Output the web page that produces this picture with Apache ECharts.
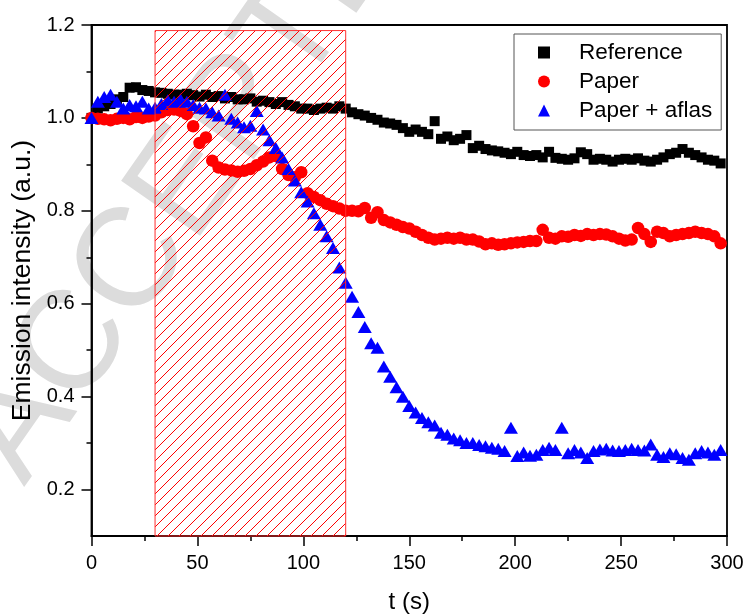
<!DOCTYPE html>
<html>
<head>
<meta charset="utf-8">
<script src="https://cdn.jsdelivr.net/npm/echarts@6/dist/echarts.min.js"></script>
<style>
html, body { margin: 0; padding: 0; background: #fff; }
#chart { width: 747px; height: 616px; }
</style>
</head>
<body>
<div id="chart"></div>
<script>
// sampling times (s)
var times = [
  0, 3, 6, 9, 12, 15, 18, 21, 24, 27,
  30, 33, 36, 39, 42, 45, 48, 51, 54, 57,
  60, 63, 66, 69, 72, 75, 78, 81, 84, 87,
  90, 93, 96, 99, 102, 105, 108, 111, 114, 117,
  120, 123, 126, 129, 132, 135, 138, 141, 144, 147,
  150, 153, 156, 159, 162, 165, 168, 171, 174, 177,
  180, 183, 186, 189, 192, 195, 198, 201, 204, 207,
  210, 213, 216, 219, 222, 225, 228, 231, 234, 237,
  240, 243, 246, 249, 252, 255, 258, 261, 264, 267,
  270, 273, 276, 279, 282, 285, 288, 291, 294, 297
];

var reference = [
  1.00, 1.02, 1.025, 1.03, 1.04, 1.045, 1.065, 1.066, 1.06, 1.058,
  1.055, 1.054, 1.052, 1.05, 1.05, 1.052, 1.049, 1.046, 1.05, 1.045,
  1.047, 1.042, 1.045, 1.04, 1.04, 1.042, 1.035, 1.037, 1.034, 1.03,
  1.034, 1.028, 1.025, 1.02, 1.02, 1.017, 1.02, 1.022, 1.02, 1.025,
  1.02, 1.012, 1.008, 1.005, 1.0, 0.996, 0.99, 0.988, 0.985, 0.978,
  0.97, 0.975, 0.97, 0.965, 0.993, 0.955, 0.96, 0.952, 0.955, 0.963,
  0.935, 0.94, 0.933, 0.93, 0.928, 0.925, 0.922, 0.927, 0.92, 0.918,
  0.92, 0.915, 0.927, 0.914, 0.912, 0.91, 0.913, 0.926, 0.922, 0.91,
  0.912, 0.91, 0.906, 0.91, 0.912, 0.91, 0.913, 0.908, 0.906, 0.91,
  0.915, 0.922, 0.925, 0.933, 0.925, 0.92, 0.915, 0.91, 0.908, 0.902
];

var paper = [
  1.0, 0.998, 0.997, 0.995, 0.998, 1.0, 0.997, 1.002, 1.0, 1.003,
  1.005, 1.012, 1.017, 1.018, 1.015, 1.008, 0.982, 0.946, 0.958, 0.908,
  0.893, 0.889, 0.887, 0.884, 0.886, 0.89, 0.898, 0.906, 0.915, 0.918,
  0.89, 0.877, 0.872, 0.883, 0.838, 0.83, 0.823, 0.815, 0.81, 0.805,
  0.8, 0.8, 0.799, 0.806, 0.785, 0.797, 0.78, 0.775, 0.77, 0.765,
  0.762, 0.755, 0.748, 0.742, 0.738, 0.74, 0.742, 0.74, 0.742, 0.738,
  0.738, 0.734, 0.728, 0.73, 0.727, 0.728, 0.73, 0.732, 0.733, 0.735,
  0.735, 0.759, 0.742, 0.74, 0.745, 0.744, 0.748, 0.746, 0.75, 0.748,
  0.75, 0.749, 0.745, 0.74, 0.736, 0.738, 0.763, 0.75, 0.733, 0.755,
  0.752, 0.745, 0.748, 0.75, 0.752, 0.755, 0.752, 0.75, 0.745, 0.73
];

var paperAflas = [
  1.0, 1.035, 1.045, 1.05, 1.035, 1.02, 1.028, 1.025, 1.035, 1.02,
  1.022, 1.03, 1.038, 1.035, 1.04, 1.035, 1.028, 1.022, 1.02, 1.012,
  1.005, 1.05, 0.998, 0.99, 0.98, 0.983, 1.015, 0.975, 0.952, 0.935,
  0.915, 0.89, 0.865, 0.84, 0.82, 0.795, 0.77, 0.745, 0.72, 0.678,
  0.645, 0.615, 0.582, 0.55, 0.515, 0.505, 0.465, 0.443, 0.42, 0.4,
  0.38, 0.366, 0.354, 0.345, 0.338, 0.322, 0.318, 0.31, 0.306, 0.3,
  0.3, 0.296, 0.293, 0.29, 0.288, 0.283, 0.333, 0.272, 0.28, 0.273,
  0.275, 0.285, 0.29, 0.285, 0.333, 0.278, 0.285, 0.28, 0.268, 0.283,
  0.286, 0.288, 0.284, 0.283, 0.285, 0.288, 0.285, 0.284, 0.297, 0.275,
  0.27, 0.278, 0.276, 0.268, 0.264, 0.278, 0.283, 0.28, 0.275, 0.285
];

// hatched exposure window: [xStart, yBottom, xEnd, yTop]
var hatchWindow = [30, 0.1, 120, 1.188];

var yMajor = [0.2, 0.4, 0.6, 0.8, 1.0, 1.2];
var yMinor = [0.3, 0.5, 0.7, 0.9, 1.1];

function pairs(vals) {
  return vals.map(function (v, i) { return [times[i], v]; });
}

function hatchPattern() {
  var c = document.createElement("canvas");
  c.width = 11;
  c.height = 11;
  var ctx = c.getContext("2d");
  ctx.strokeStyle = "#ff0000";
  ctx.lineWidth = 1;
  ctx.beginPath();
  ctx.moveTo(-1, 12); ctx.lineTo(12, -1);
  ctx.moveTo(-1, 1); ctx.lineTo(1, -1);
  ctx.moveTo(10, 12); ctx.lineTo(12, 10);
  ctx.stroke();
  return { image: c, repeat: "repeat" };
}

var font = "Liberation Sans";
var pattern = hatchPattern();
var chart = echarts.init(document.getElementById("chart"));
var option = {
  animation: false,
  textStyle: { fontFamily: font, color: "#000" },
  grid: {
    left: 91.5, right: 20, top: 25, bottom: 80,
    outerBoundsMode: "none",
    show: true, borderColor: "#000", borderWidth: 1.8
  },
  graphic: [{
    type: "text",
    z: -10,
    x: -65,
    y: 425,
    rotation: 55 * Math.PI / 180,
    style: { text: "ACCEPTED MANUSCRIPT", font: "140px Liberation Sans", fill: "#dcdcdc" }
  }],
  legend: {
    orient: "vertical",
    left: 514, top: 34,
    padding: [7, 9, 8, 24],
    itemWidth: 12, itemHeight: 12, itemGap: 6,
    borderColor: "#555", borderWidth: 1,
    textStyle: { fontSize: 22.5, fontFamily: font, color: "#000", lineHeight: 22, padding: [0, 0, 0, 24] },
    data: ["Reference", "Paper", "Paper + aflas"]
  },
  xAxis: {
    type: "value",
    min: 0, max: 300, interval: 50,
    name: "t (s)", nameLocation: "middle", nameGap: 54,
    nameTextStyle: { fontSize: 24, fontFamily: font, color: "#000" },
    axisLine: { lineStyle: { color: "#000", width: 1.8 } },
    axisTick: { length: 10, lineStyle: { color: "#000", width: 1.5 } },
    minorTick: { show: true, splitNumber: 2, length: 5, lineStyle: { color: "#000", width: 1.5 } },
    axisLabel: { fontSize: 20, margin: 17, color: "#000" },
    splitLine: { show: false }
  },
  yAxis: [{
    type: "value",
    min: 0.1, max: 1.2,
    name: "Emission intensity (a.u.)", nameLocation: "middle", nameGap: 50,
    nameTextStyle: { fontSize: 26.5, fontFamily: font, color: "#000" },
    axisLine: { lineStyle: { color: "#000", width: 1.8 } },
    axisTick: { length: 10, customValues: yMajor, lineStyle: { color: "#000", width: 1.5 } },
    axisLabel: {
      fontSize: 20, margin: 17, color: "#000", customValues: yMajor,
      formatter: function (v) { return v.toFixed(1); }
    },
    splitLine: { show: false }
  }, {
    type: "value",
    min: 0.1, max: 1.2,
    position: "left",
    axisLine: { show: false },
    axisTick: { show: true, length: 5, customValues: yMinor, lineStyle: { color: "#000", width: 1.5 } },
    axisLabel: { show: false },
    splitLine: { show: false }
  }],
  series: [{
    name: "Reference",
    type: "scatter",
    symbol: "rect",
    symbolSize: 10,
    itemStyle: { color: "#000", opacity: 1 },
    data: pairs(reference)
  }, {
    name: "Paper",
    type: "scatter",
    symbol: "circle",
    symbolSize: 12.5,
    itemStyle: { color: "#ff0000", opacity: 1 },
    data: pairs(paper)
  }, {
    name: "Paper + aflas",
    type: "scatter",
    symbol: "triangle",
    symbolSize: [14, 12],
    itemStyle: { color: "#0000ff", opacity: 1 },
    data: pairs(paperAflas)
  }, {
    name: "window",
    type: "custom",
    z: 10,
    silent: true,
    encode: { x: [0, 2], y: [1, 3] },
    data: [hatchWindow],
    renderItem: function (params, api) {
      var p0 = api.coord([api.value(0), api.value(1)]);
      var p1 = api.coord([api.value(2), api.value(3)]);
      return {
        type: "rect",
        shape: { x: p0[0], y: p1[1], width: p1[0] - p0[0], height: p0[1] - p1[1] },
        style: { fill: pattern, stroke: "#ff3030", lineWidth: 1 }
      };
    }
  }]
};
chart.setOption(option);
</script>
</body>
</html>
